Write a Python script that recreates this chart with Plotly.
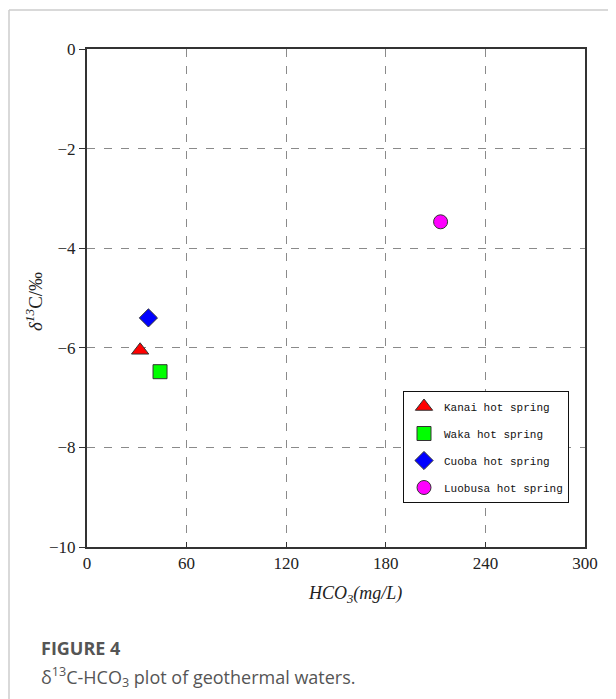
import plotly.graph_objects as go

names = ["Kanai hot spring", "Waka hot spring", "Cuoba hot spring", "Luobusa hot spring"]
hco3 = [32, 44, 37, 213]
d13c = [-6.05, -6.48, -5.4, -3.47]
symbols = ["triangle-up", "square", "diamond", "circle"]
colors = ["#ff0000", "#00ff00", "#0000ff", "#ff00ff"]
x_ticks = [0, 60, 120, 180, 240, 300]
y_ticks = [0, -2, -4, -6, -8, -10]
y_labels = ["0", "\u22122", "\u22124", "\u22126", "\u22128", "\u221210"]

OFF = 8  # page body margin
W, H = 616 - OFF, 699 - OFF
L, R, T, B = 87 - OFF, 585 - OFF, 49 - OFF, 547 - OFF
pw, ph = R - L, B - T

def px(xp):
    return (xp - OFF - L) / pw

def py(yp):
    return (B - (yp - OFF)) / ph

fig = go.Figure()
for i, n in enumerate(names):
    fig.add_trace(go.Scatter(
        x=[hco3[i]], y=[d13c[i]], mode="markers", name=n, legendgroup=n,
        marker=dict(symbol=symbols[i], color=colors[i], size=15 if i == 0 else 14,
                    line=dict(color="#333333", width=1)),
    ))

serif = "Liberation Serif"
fig.update_layout(
    width=W, height=H,
    margin=dict(l=L, r=W - R, t=T, b=H - B),
    paper_bgcolor="white", plot_bgcolor="white",
    showlegend=True,
    legend=dict(x=px(403), y=py(391), xanchor="left", yanchor="top",
                bordercolor="#111111", borderwidth=1, bgcolor="white",
                font=dict(family="Liberation Mono", size=11, color="#111111"),
                tracegroupgap=8, itemwidth=30),
    xaxis=dict(range=[0, 300], tickvals=x_ticks, ticktext=[str(v) for v in x_ticks],
               showgrid=True, gridcolor="#8a8a8a", griddash="8px,9px", gridwidth=1,
               showline=True, linecolor="#333333", linewidth=2, mirror=True,
               ticks="inside", ticklen=5, tickcolor="#333333", zeroline=False,
               tickfont=dict(family=serif, size=17, color="#222222")),
    yaxis=dict(range=[-10, 0], tickvals=y_ticks, ticktext=y_labels,
               showgrid=True, gridcolor="#8a8a8a", griddash="8px,9px", gridwidth=1,
               showline=True, linecolor="#333333", linewidth=2, mirror=True,
               ticks="outside", ticklen=6, tickcolor="#333333", zeroline=False,
               tickfont=dict(family=serif, size=17, color="#222222")),
)

fig.add_annotation(xref="paper", yref="paper", x=px(34), y=py(302),
                   xanchor="center", yanchor="middle",
                   text="<i>\u03b4<sup>13</sup></i>C/\u2030", textangle=-90, showarrow=False,
                   font=dict(family=serif, size=19, color="#222222"))
fig.add_annotation(xref="paper", yref="paper", x=px(355), y=py(594),
                   xanchor="center", yanchor="middle",
                   text="<i>HCO<sub>3</sub>(mg/L)</i>", showarrow=False,
                   font=dict(family=serif, size=18, color="#222222"))
fig.add_annotation(xref="paper", yref="paper", x=px(39), y=py(648), xanchor="left", yanchor="middle",
                   text="<b>FIGURE 4</b>", showarrow=False,
                   font=dict(family="Open Sans", size=18, color="#555555"))
fig.add_annotation(xref="paper", yref="paper", x=px(39), y=py(677), xanchor="left", yanchor="middle",
                   text="\u03b4<sup>13</sup>C-HCO<sub>3</sub> plot of geothermal waters.", showarrow=False,
                   font=dict(family="Open Sans", size=18, color="#555555"))

fig.add_shape(type="line", xref="paper", yref="paper", x0=px(9), x1=px(616), y0=py(10), y1=py(10),
              line=dict(color="#cccccc", width=1.5))
fig.add_shape(type="line", xref="paper", yref="paper", x0=px(9), x1=px(9), y0=py(10), y1=py(699),
              line=dict(color="#cccccc", width=1.5))

fig.write_html("out.html")
